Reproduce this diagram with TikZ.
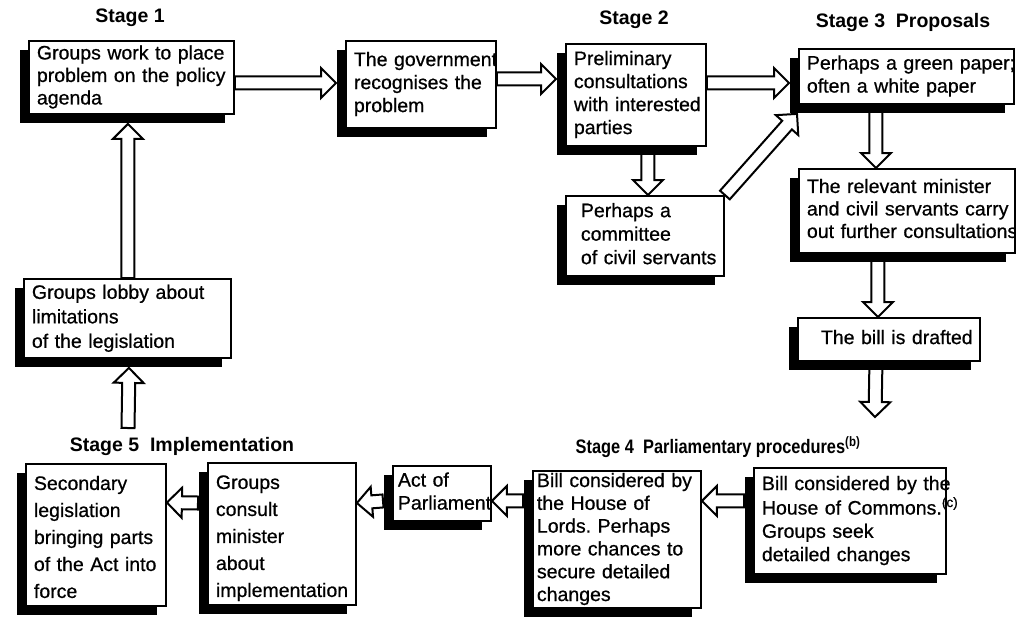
\documentclass[tikz,border=0pt]{standalone}
\usepackage{fontspec}
\usepackage{graphicx}
\setmainfont{Liberation Sans}
\newfontfamily\boxfont{Liberation Sans}[FakeBold=0.7]
\usetikzlibrary{calc,shadows}
\pgfdeclarelayer{background}
\pgfsetlayers{background,main}
\newcommand{\tl}[1]{\begin{tabular}{@{}l@{}}#1\end{tabular}}
\frenchspacing
\begin{document}
\begin{tikzpicture}[x=1pt,y=-1pt,
  box/.style={draw, line width=1.9pt, fill=white, anchor=north west,
    inner ysep=0pt, inner xsep=8pt, align=left,
    font=\boxfont\fontsize{19.5}{23}\selectfont,
    drop shadow={shadow xshift=-9pt, shadow yshift=-9pt, opacity=1, fill=black}},
  lsp/.style={font=\boxfont\fontsize{19.5}{#1}\selectfont},
  stage/.style={font=\bfseries\fontsize{19.5}{21}\selectfont, inner sep=0pt},
  fat/.style={draw, line width=2pt, fill=white, line join=miter,
    to path={let \p1=(\tikztostart), \p2=(\tikztotarget),
      \n1={atan2(\y2-\y1,\x2-\x1)} in
      ($(\p1)+(\n1+90:6.5pt)$)
      -- ($(\p2)+(\n1+180:15pt)+(\n1+90:6.5pt)$)
      -- ($(\p2)+(\n1+180:15pt)+(\n1+90:15pt)$)
      -- (\p2)
      -- ($(\p2)+(\n1+180:15pt)+(\n1-90:15pt)$)
      -- ($(\p2)+(\n1+180:15pt)+(\n1-90:6.5pt)$)
      -- ($(\p1)+(\n1-90:6.5pt)$) -- cycle}}
]
\useasboundingbox (0,0) rectangle (1016,619);

% stage labels
\node[stage] (st1) at (130,18) {Stage 1};
\node[stage] (st2) at (634,20) {Stage 2};
\node[stage] (st3) at (903,22) {Stage 3\ \ Proposals};
\node[stage] (st4) at (718,447) {\scalebox{0.84}[1]{Stage 4\ \ Parliamentary procedures\textsuperscript{(b)}}};
\node[stage] (st5) at (182,446) {Stage 5\ \ Implementation};

% boxes
\node[box, lsp=22.5pt, minimum width=205pt, minimum height=73pt, text width=189pt] (b1) at (28,40)
  {\tl{Groups work to place\\problem on the policy\\agenda}};
\node[box, minimum width=150pt, minimum height=87pt, text width=134pt] (b2) at (345,40)
  {\tl{The government\\recognises the\\problem}};
\node[box, minimum width=140pt, minimum height=102pt, text width=124pt] (b3) at (565,43)
  {\tl{Preliminary\\consultations\\with interested\\parties}};
\node[box, minimum width=215pt, minimum height=55pt, text width=199pt] (b4) at (798,48)
  {\tl{Perhaps a green paper;\\often a white paper}};
\node[box, lsp=22.5pt, minimum width=216pt, minimum height=84pt, text width=200pt] (b5) at (798,168)
  {\tl{The relevant minister\\and civil servants carry\\out further consultations}};
\node[box, minimum width=182pt, minimum height=43pt, text width=166pt] (b6) at (797,317)
  {\hspace*{15pt}\tl{The bill is drafted}};
\node[box, lsp=23.5pt, minimum width=158pt, minimum height=80pt, text width=136pt, inner xsep=11pt] (cm) at (565,195)
  {\hspace*{4pt}\tl{Perhaps a\\committee\\of civil servants}};
\node[box, lsp=24.5pt, minimum width=207pt, minimum height=79pt, text width=191pt] (lob) at (23,278)
  {\tl{Groups lobby about\\limitations\\of the legislation}};
\node[box, lsp=27pt, minimum width=140pt, minimum height=139pt, text width=124pt] (sec) at (25,463)
  {\tl{\rule{0pt}{26pt}Secondary\\legislation\\bringing parts\\of the Act into\\force}};
\node[box, lsp=27pt, minimum width=148pt, minimum height=138pt, text width=132pt] (con) at (207,462)
  {\tl{\rule{0pt}{26pt}Groups\\consult\\minister\\about\\implementation}};
\node[box, minimum width=98pt, minimum height=55pt, text width=88pt, inner xsep=5pt] (act) at (392,465)
  {\tl{Act of\\Parliament}};
\node[box, lsp=22.8pt, minimum width=168pt, minimum height=137pt, text width=160pt, inner xsep=4pt] (lor) at (532,470)
  {\tl{Bill considered by\\the House of\\Lords. Perhaps\\more chances to\\secure detailed\\changes}};
\node[box, lsp=23.3pt, minimum width=192pt, minimum height=106pt, text width=176pt] (com) at (753,467)
  {\tl{Bill considered by the\\House of Commons.\textsuperscript{(c)}\\Groups seek\\detailed changes}};

\coordinate (e6) at (875,417);
\coordinate (s13) at (128,428);

% arrows
\begin{pgfonlayer}{background}
\fill[white] (0,0) rectangle (1016,619);
\draw[fat] ([yshift=-5.5pt]b1.east) to ([xshift=-9pt,yshift=1.5pt]b2.west);
\draw[fat] ([yshift=5.5pt]b2.east) to ([xshift=-9pt,yshift=16pt]b3.west);
\draw[fat] ([yshift=12pt]b3.east) to ([xshift=-9pt,yshift=-6.5pt]b4.west);
\draw[fat] ([xshift=-30.5pt]b4.south) to ([xshift=-31pt]b5.north);
\draw[fat] ([xshift=-29pt]b5.south) to ([xshift=-11pt]b6.north);
\draw[fat] ([xshift=-13pt]b6.south) to (e6);
\draw[fat] ([xshift=12pt]b3.south) to ([xshift=3pt]cm.north);
\draw[fat] (cm.north east) to ([xshift=-1pt,yshift=-9pt]b4.south west);
\draw[fat] ([xshift=-9pt,yshift=20pt]com.west) to ([yshift=38.5pt]lor.east);
\draw[fat] ([xshift=-9pt,yshift=38.5pt]lor.west) to ([yshift=-7.5pt]act.east);
\draw[fat] ([xshift=-9pt,yshift=-7.5pt]act.west) to ([yshift=31pt]con.east);
\draw[fat] ([xshift=-9pt,yshift=31pt]con.west) to ([yshift=32.5pt]sec.east);
\draw[fat] (s13) to ([xshift=1.5pt,yshift=-9pt]lob.south);
\draw[fat] ([xshift=0.5pt]lob.north) to ([xshift=-3.5pt,yshift=-9pt]b1.south);
\end{pgfonlayer}
\end{tikzpicture}
\end{document}
